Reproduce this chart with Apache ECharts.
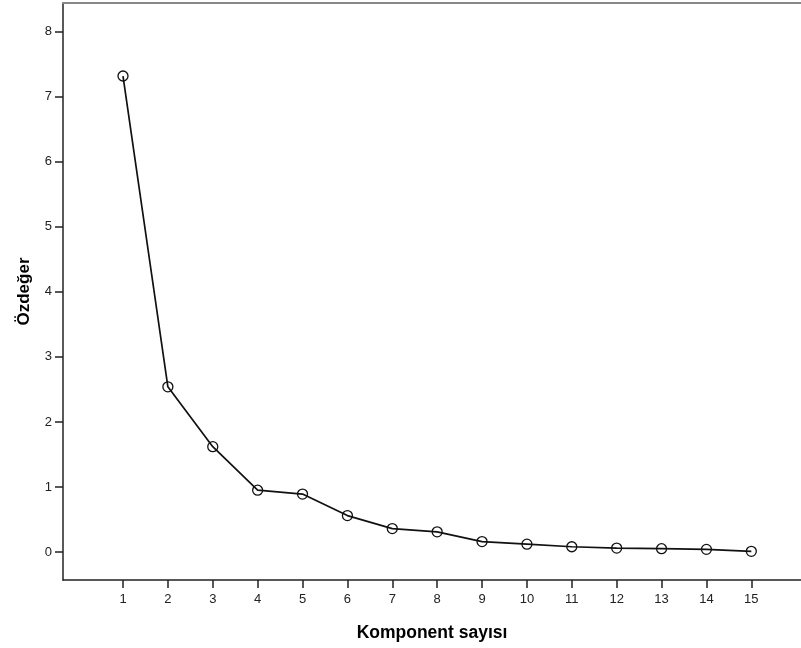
<!DOCTYPE html>
<html>
<head>
<meta charset="utf-8">
<script src="https://cdn.jsdelivr.net/npm/echarts@6/dist/echarts.min.js"></script>
<style>
html,body{margin:0;padding:0;background:#fff;}
#chart{width:801px;height:648px;}
</style>
</head>
<body>
<div id="chart"></div>
<script>
const components = [1,2,3,4,5,6,7,8,9,10,11,12,13,14,15];
const eigenvalues = [7.32,2.54,1.62,0.95,0.89,0.56,0.36,0.31,0.16,0.12,0.08,0.06,0.05,0.04,0.01];
const xTicks = [1,2,3,4,5,6,7,8,9,10,11,12,13,14,15];
const yTicks = [0,1,2,3,4,5,6,7,8];
const xTitle = 'Komponent sayısı';
const yTitle = 'Özdeğer';

const chart = echarts.init(document.getElementById('chart'), null, {renderer:'canvas'});
const font = '"Liberation Sans", Arial, sans-serif';
chart.setOption({
  animation: false,
  backgroundColor: '#fff',
  grid: {left: 63, top: 3, right: 0, bottom: 68, containLabel: false},
  xAxis: [{
    type: 'value',
    min: -0.337, max: 16.107,
    name: xTitle,
    nameLocation: 'middle',
    nameGap: 44,
    nameTextStyle: {fontFamily: font, fontSize: 17.5, fontWeight: 'bold', color: '#000'},
    axisLine: {show: true, onZero: false, lineStyle: {color: '#222', width: 1.5}},
    axisTick: {show: true, length: 8, customValues: xTicks, lineStyle: {color: '#222', width: 1.5}},
    axisLabel: {customValues: xTicks, margin: 13, fontFamily: font, fontSize: 13, color: '#222'},
    splitLine: {show: false}
  }, {
    type: 'value',
    position: 'top',
    min: -0.337, max: 16.107,
    axisLine: {show: true, onZero: false, lineStyle: {color: '#888', width: 2}},
    axisTick: {show: false},
    axisLabel: {show: false},
    splitLine: {show: false}
  }],
  yAxis: {
    type: 'value',
    min: -0.431, max: 8.443,
    name: yTitle,
    nameLocation: 'middle',
    nameGap: 30,
    nameRotate: 90,
    nameTextStyle: {fontFamily: font, fontSize: 17, fontWeight: 'bold', color: '#000'},
    axisLine: {show: true, onZero: false, lineStyle: {color: '#222', width: 1.5}},
    axisTick: {show: true, length: 8, customValues: yTicks, lineStyle: {color: '#222', width: 1.5}},
    axisLabel: {customValues: yTicks, margin: 11, fontFamily: font, fontSize: 13, color: '#222'},
    splitLine: {show: false}
  },
  series: [{
    type: 'line',
    xAxisIndex: 0,
    data: components.map((c, i) => [c, eigenvalues[i]]),
    symbol: 'circle',
    symbolSize: 10,
    showAllSymbol: true,
    lineStyle: {color: '#111', width: 1.7},
    itemStyle: {color: 'rgba(255,255,255,0)', borderColor: '#111', borderWidth: 1.3}
  }]
});
</script>
</body>
</html>
